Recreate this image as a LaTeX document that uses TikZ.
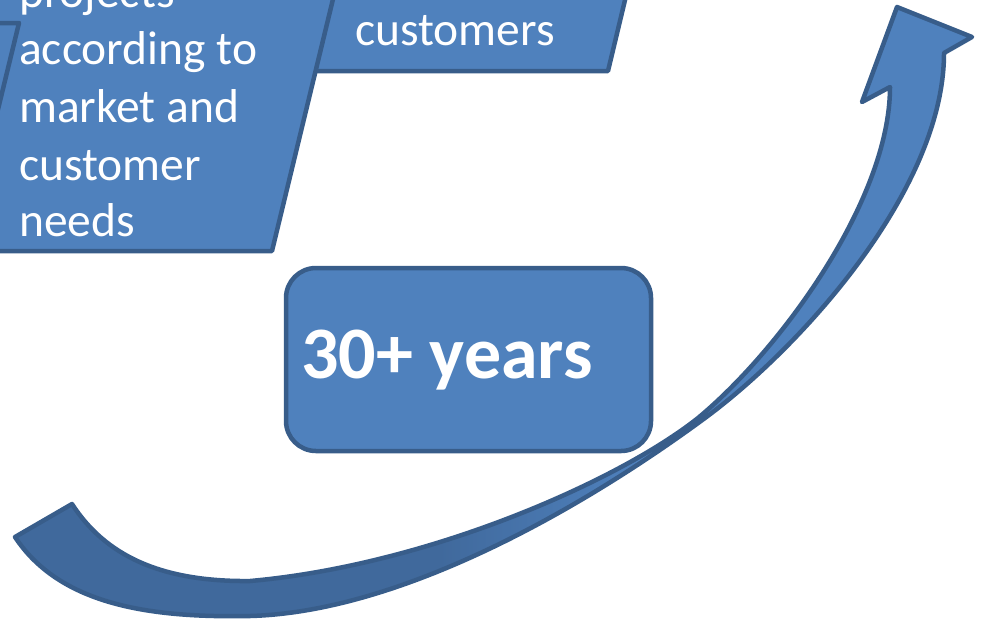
\documentclass[tikz,border=0pt]{standalone}
\usepackage{fontspec}
\setmainfont{Carlito}
\definecolor{boxfill}{HTML}{4F81BD}
\definecolor{boxline}{HTML}{385D8A}
\definecolor{tailfill}{HTML}{40699C}
\newcommand\arrowshape{(15,537) .. controls (60,605) and (150,618) .. (250,616) .. controls (400,612) and (580,510) .. (705,418) .. controls (800,348) and (944,190) .. (944,53) -- (972,37) -- (897,7) -- (862,102) -- (890,87) .. controls (890,200) and (780,350) .. (698,418) .. controls (620,480) and (430,565) .. (250,581) .. controls (160,582) and (105,555) .. (72,504) -- cycle}
\tikzset{
  shapebox/.style={fill=boxfill, draw=boxline, line width=4.5pt, line join=round},
  bodytext/.style={text=white, inner sep=0pt, anchor=base west, font=\fontsize{47.5}{57}\selectfont},
  bigtext/.style={text=white, inner sep=0pt, anchor=base west, font=\bfseries\fontsize{74}{88}\selectfont}
}
\begin{document}
\begin{tikzpicture}[x=1pt,y=-1pt]
\useasboundingbox (0,0) rectangle (984,619);
% curved arrow
\fill[boxfill] \arrowshape;
\begin{scope}
  \clip \arrowshape;
  \fill[tailfill] (-20,380) rectangle (440,640);
  \shade[left color=tailfill, right color=boxfill] (439,380) rectangle (640,640);
\end{scope}
\draw[draw=boxline, line width=4.5pt, line join=round] \arrowshape;
% customers shape (behind)
\draw[shapebox] (200,-100) -- (649,-100) -- (608,71) -- (250,71) -- cycle;
\node[bodytext] (cust) at (355,45) {customers};
% big shape
\draw[shapebox] (-100,-100) -- (357,-100) -- (272,251) -- (-100,251) -- cycle;
% small left shape
\draw[shapebox] (-100,23) -- (19,23) -- (-60,348) -- (-100,348) -- cycle;
\node[bodytext] (l1) at (19,7) {projects};
\node[bodytext] (l2) at (19,64) {according to};
\node[bodytext] (l3) at (19,122) {market and};
\node[bodytext] (l4) at (19,180) {customer};
\node[bodytext] (l5) at (19,236) {needs};
% rounded box
\draw[shapebox, rounded corners=30pt] (286,268) rectangle (651,451);
\node[bigtext] (yrs) at (301,378) {30+ years};
\end{tikzpicture}
\end{document}
